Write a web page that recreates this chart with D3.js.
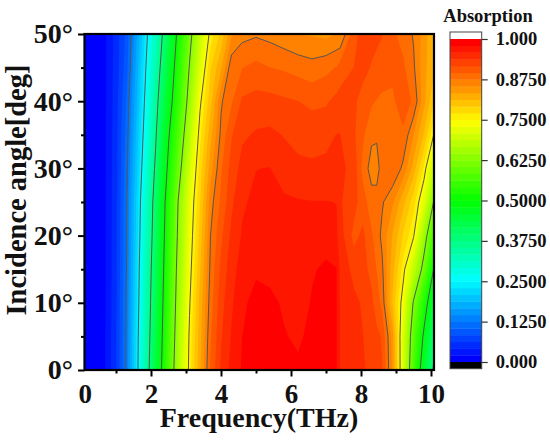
<!DOCTYPE html>
<html>
<head>
<meta charset="utf-8" />
<title>Absorption map</title>
<script type="text/javascript" src="https://d3js.org/d3.v7.min.js"></script>
<style type="text/css">
    html, body { margin: 0; padding: 0; background: #fff; }
    svg { display: block; }
    text { font-family: "Liberation Serif", serif; font-weight: bold; fill: #111; }
</style>
</head>
<body>
<svg width="550" height="442"></svg>
<script>
    var w = 550;
    var h = 442;

    // sample columns (THz) and rows (deg)
    var freqs = [0.1, 0.7, 1, 1.3, 1.6, 1.9, 2.2, 2.5, 2.8, 3.1, 3.4, 3.7, 4, 4.3, 4.6, 5, 5.4, 5.8, 6.2, 6.6, 7, 7.3, 7.4, 7.8, 8.05, 8.3, 8.45, 8.6, 8.9, 9.2, 9.5, 9.8, 10.1];
    var angles = [0, 5, 10, 15, 20, 25, 30, 35, 40, 45, 50];

    var abs0  = [.005,.021,.06,.13,.239,.359,.463,.574,.674,.759,.83,.899,.942,.965,.981,.985,.986,.982,.984,.986,.988,.98,.958,.945,.94,.932,.925,.918,.85,.712,.572,.458,.36];
    var abs5  = [.005,.021,.06,.129,.236,.351,.456,.565,.666,.755,.825,.893,.935,.96,.979,.986,.986,.981,.975,.986,.987,.98,.957,.944,.938,.93,.922,.915,.845,.712,.589,.49,.39];
    var abs10 = [.005,.02,.059,.128,.23,.344,.45,.556,.658,.747,.82,.886,.93,.955,.975,.986,.985,.976,.968,.981,.986,.98,.957,.943,.935,.922,.906,.89,.81,.735,.62,.53,.44];
    var abs15 = [.005,.02,.058,.125,.226,.338,.443,.549,.65,.738,.81,.88,.922,.95,.968,.976,.972,.966,.963,.977,.983,.98,.955,.93,.925,.91,.895,.88,.821,.762,.688,.605,.49];
    var abs20 = [.005,.02,.057,.123,.22,.327,.436,.541,.641,.73,.8,.875,.912,.943,.96,.97,.969,.967,.966,.967,.97,.962,.948,.91,.922,.899,.885,.87,.832,.79,.754,.65,.56];
    var abs25 = [.005,.02,.056,.122,.216,.32,.429,.534,.634,.723,.79,.866,.9,.933,.956,.962,.963,.962,.96,.959,.959,.958,.94,.925,.905,.885,.884,.878,.858,.82,.78,.72,.615];
    var abs30 = [.005,.02,.055,.116,.205,.304,.41,.513,.606,.7,.78,.845,.893,.925,.945,.958,.959,.948,.943,.941,.942,.945,.943,.93,.89,.865,.866,.885,.895,.87,.825,.765,.68];
    var abs35 = [.005,.02,.054,.112,.197,.288,.392,.494,.581,.674,.764,.826,.88,.915,.934,.94,.942,.9365,.93,.929,.932,.938,.938,.92,.9,.88,.878,.89,.89,.893,.855,.81,.745];
    var abs40 = [.005,.019,.053,.106,.186,.276,.375,.471,.554,.648,.744,.806,.872,.893,.92,.924,.924,.92,.917,.912,.914,.923,.925,.921,.908,.899,.895,.892,.893,.905,.893,.84,.79];
    var abs45 = [.005,.019,.051,.095,.178,.263,.356,.45,.54,.628,.713,.79,.83,.89,.895,.902,.896,.893,.888,.883,.89,.897,.905,.917,.925,.915,.91,.907,.9,.9,.879,.84,.815];
    var abs50 = [.005,.019,.05,.09,.167,.25,.337,.428,.522,.607,.688,.76,.797,.85,.868,.872,.868,.861,.854,.852,.848,.855,.853,.91,.925,.925,.922,.918,.9,.888,.873,.845,.81];

    var bandCount = 48;
    var lineLevels = [0.125, 0.25, 0.375, 0.5, 0.625, 0.75, 0.875];
    var xMajor = [2, 4, 6, 8, 10];
    var xMinor = [1, 3, 5, 7, 9];
    var yMajor = [0, 10, 20, 30, 40, 50];
    var yMinor = [5, 15, 25, 35, 45];
    var barTicks = [0, 0.125, 0.25, 0.375, 0.5, 0.625, 0.75, 0.875, 1];
    var barLabels = ["0.000", "0.1250", "0.2500", "0.3750", "0.5000", "0.6250", "0.7500", "0.8750", "1.000"];

    var plot = { left: 84.5, right: 434, top: 34, bottom: 370 };
    var bar = { left: 450, right: 481.7, top: 32, bottom: 368.7, v1: 39, v0: 362 };

    var svg = d3.select("svg");

    var x = d3.scaleLinear().domain([0, 10]).range([81, 431]);
    var y = d3.scaleLinear().domain([0, 50]).range([370, 34]);

    // contour grid index -> real axis value (columns are not evenly spaced)
    var colToFreq = d3.scaleLinear().domain(d3.range(freqs.length)).range(freqs);
    var rowToAngle = d3.scaleLinear().domain(d3.range(angles.length)).range(angles);

    var rainbow = d3.scaleLinear()
        .domain([0, 0.25, 0.5, 0.75, 1])
        .range(["#0000ff", "#00ffff", "#00ff00", "#ffff00", "#ff0000"]);
    var bandColor = function(i) { return rainbow(i / (bandCount - 1)); };

    var grid = d3.merge([abs0, abs5, abs10, abs15, abs20, abs25, abs30, abs35, abs40, abs45, abs50]);

    var contours = d3.contours().size([freqs.length, angles.length]);

    // d3.contours puts sample i at i + 0.5
    var project = d3.geoTransform({
        point: function(cx, cy) {
            this.stream.point(x(colToFreq(cx - 0.5)), y(rowToAngle(cy - 0.5)));
        }
    });
    var path = d3.geoPath(project);

    svg.append("clipPath").attr("id", "plot-clip")
        .append("rect")
        .attr("x", plot.left).attr("y", plot.top)
        .attr("width", plot.right - plot.left).attr("height", plot.bottom - plot.top);

    var map = svg.append("g").attr("clip-path", "url(#plot-clip)");

    map.append("rect")
        .attr("x", plot.left).attr("y", plot.top)
        .attr("width", plot.right - plot.left).attr("height", plot.bottom - plot.top)
        .attr("fill", bandColor(0));

    // filled bands
    var bandLevels = d3.range(1, bandCount).map(function(i) { return i / bandCount; });
    map.selectAll("path.band")
        .data(contours.thresholds(bandLevels)(grid))
        .enter().append("path")
        .attr("class", "band")
        .attr("d", path)
        .attr("fill", function(d, i) { return bandColor(i + 1); });

    // contour lines on the major levels
    map.selectAll("path.line")
        .data(contours.thresholds(lineLevels)(grid))
        .enter().append("path")
        .attr("class", "line")
        .attr("d", path)
        .attr("fill", "none")
        .attr("stroke", "#555")
        .attr("stroke-width", 1);

    // frame
    svg.append("rect")
        .attr("x", plot.left).attr("y", plot.top)
        .attr("width", plot.right - plot.left).attr("height", plot.bottom - plot.top)
        .attr("fill", "none").attr("stroke", "#000").attr("stroke-width", 2.2);

    // axes
    var gxMinor = svg.append("g").attr("transform", "translate(0," + plot.bottom + ")")
        .call(d3.axisBottom(x).tickValues(xMinor).tickSize(3.5).tickFormat(""));
    var gx = svg.append("g").attr("transform", "translate(0," + plot.bottom + ")")
        .call(d3.axisBottom(x).tickValues(xMajor).tickSize(6.5).tickPadding(7).tickFormat(d3.format("d")));
    svg.append("text").attr("x", plot.left + 0.8).attr("y", 403).attr("text-anchor", "middle").style("font-size", "27px").text("0");

    var gyMinor = svg.append("g").attr("transform", "translate(" + plot.left + ",0)")
        .call(d3.axisLeft(y).tickValues(yMinor).tickSize(3.5).tickFormat(""));
    var gy = svg.append("g").attr("transform", "translate(" + plot.left + ",0)")
        .call(d3.axisLeft(y).tickValues(yMajor).tickSize(6.5).tickPadding(5).tickFormat(function(d) { return d + "°"; }));

    [gxMinor, gx, gyMinor, gy].forEach(function(g) {
        g.select(".domain").remove();
        g.selectAll("line").attr("stroke", "#000").attr("stroke-width", 2);
    });
    gx.selectAll("text").style("font-size", "27px").attr("fill", "#111");
    gy.selectAll("text").style("font-size", "28px").attr("fill", "#111");

    svg.append("text").attr("x", 259).attr("y", 427).attr("text-anchor", "middle")
        .style("font-size", "28px").text("Frequency(THz)");
    svg.append("text").attr("transform", "translate(26,190) rotate(-90)").attr("text-anchor", "middle")
        .style("font-size", "28.5px").text("Incidence angle[deg]");

    // colour bar
    var yBar = d3.scaleLinear().domain([0, 1]).range([bar.v0, bar.v1]);
    var barG = svg.append("g");
    barG.append("rect")
        .attr("x", bar.left).attr("y", bar.top)
        .attr("width", bar.right - bar.left).attr("height", bar.v1 - bar.top)
        .attr("fill", "#fff");
    barG.selectAll("rect.step")
        .data(d3.range(bandCount))
        .enter().append("rect")
        .attr("class", "step")
        .attr("x", bar.left)
        .attr("y", function(i) { return yBar((i + 1) / bandCount); })
        .attr("width", bar.right - bar.left)
        .attr("height", function(i) { return yBar(i / bandCount) - yBar((i + 1) / bandCount) + 0.4; })
        .attr("fill", function(i) { return bandColor(i); });
    barG.append("rect")
        .attr("x", bar.left).attr("y", bar.v0)
        .attr("width", bar.right - bar.left).attr("height", bar.bottom - bar.v0)
        .attr("fill", "#000");
    barG.append("rect")
        .attr("x", bar.left).attr("y", bar.top)
        .attr("width", bar.right - bar.left).attr("height", bar.bottom - bar.top)
        .attr("fill", "none").attr("stroke", "#444").attr("stroke-width", 1);

    var gBar = svg.append("g").attr("transform", "translate(" + bar.right + ",0)")
        .call(d3.axisRight(yBar).tickValues(barTicks).tickSize(6).tickPadding(8)
            .tickFormat(function(d, i) { return barLabels[i]; }));
    gBar.select(".domain").remove();
    gBar.selectAll("line").attr("stroke", "#333").attr("stroke-width", 1.2);
    gBar.selectAll("text").style("font-size", "18.5px").attr("fill", "#111");

    svg.append("text").attr("x", 488).attr("y", 22).attr("text-anchor", "middle")
        .style("font-size", "18.5px").text("Absorption");
</script>
</body>
</html>
